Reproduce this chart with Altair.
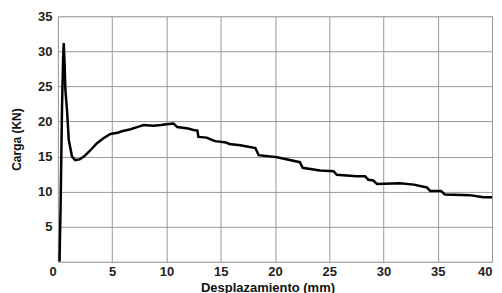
import altair as alt
import pandas as pd

disp = [0.15, 0.25, 0.38, 0.48, 0.54, 0.62, 0.69, 0.84, 1.0, 1.3, 1.6, 2.0, 2.4, 3.0,
        3.6, 4.2, 4.8, 5.1, 5.5, 5.9, 6.7, 7.3, 7.9, 8.8, 9.5, 10.0, 10.65, 11.0, 12.0,
        12.5, 12.85, 12.95, 13.7, 14.3, 14.5, 15.5, 15.8, 16.8, 18.2, 18.5, 20.2, 22.3,
        22.55, 24.15, 25.4, 25.7, 27.5, 28.3, 28.6, 29.05, 29.4, 31.5, 32.8, 34.0, 34.3,
        35.3, 35.65, 37.95, 39.2, 40.0]
load = [0.0, 8.0, 22.0, 29.0, 31.2, 28.0, 24.5, 21.6, 17.4, 15.0, 14.5, 14.6, 15.0, 15.9,
        16.9, 17.6, 18.2, 18.3, 18.4, 18.6, 18.9, 19.2, 19.5, 19.4, 19.5, 19.6, 19.7, 19.2, 19.0,
        18.8, 18.7, 17.8, 17.7, 17.3, 17.2, 17.0, 16.8, 16.6, 16.2, 15.2, 14.9, 14.2,
        13.4, 13.0, 12.9, 12.4, 12.2, 12.2, 11.7, 11.6, 11.1, 11.2, 11.0, 10.6, 10.1,
        10.1, 9.6, 9.5, 9.2, 9.2]

x_ticks = [0, 5, 10, 15, 20, 25, 30, 35, 40]
y_ticks = [0, 5, 10, 15, 20, 25, 30, 35]

df = pd.DataFrame({"d": disp, "c": load, "i": list(range(len(disp)))})

FONT = "Liberation Sans"

chart = alt.Chart(df).mark_line(color="black", strokeWidth=2.5, clip=True).encode(
    x=alt.X("d:Q", scale=alt.Scale(domain=[0, 40], nice=False),
            axis=alt.Axis(values=x_ticks, title="Desplazamiento (mm)", domain=False, ticks=False,
                          gridColor="#999999", gridWidth=1,
                          labelFont=FONT, labelFontSize=13, labelFontWeight="bold",
                          labelColor="#222222", labelPadding=4,
                          labelOffset={"condition": {"test": "datum.value == 0", "value": -9}, "value": 0},
                          titleFont=FONT, titleFontSize=13, titleFontWeight="bold",
                          titleColor="#111111", titleX=210, titleY=30, titleBaseline="alphabetic")),
    y=alt.Y("c:Q", scale=alt.Scale(domain=[0, 35], nice=False),
            axis=alt.Axis(values=y_ticks, title="Carga (KN)", domain=False, ticks=False,
                          gridColor="#999999", gridWidth=1,
                          labelFont=FONT, labelFontSize=13, labelFontWeight="bold",
                          labelColor="#222222", labelPadding=6,
                          labelExpr="datum.value == 0 ? '' : datum.label",
                          titleFont=FONT, titleFontSize=12, titleFontWeight="bold",
                          titleColor="#111111", titleX=-41, titleY=123,
                          titleAngle=-90, titleBaseline="middle", titleAlign="center")),
    order="i:Q",
).properties(
    width=435, height=246,
    autosize=alt.AutoSizeParams(type="none"),
    padding={"left": 50, "top": 8, "right": 2, "bottom": 32},
).configure_view(stroke="black", strokeWidth=2.5).configure(background="white")

chart.save("out.html", embed_options={"renderer": "svg", "actions": False})
